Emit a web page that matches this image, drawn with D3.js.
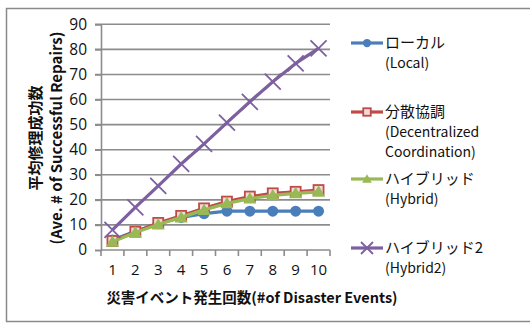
<!DOCTYPE html>
<html>
<head>
<meta charset="utf-8">
<script src="https://cdn.jsdelivr.net/npm/d3@7"></script>
<style>
  html, body { margin: 0; padding: 0; background: #fff; }
  svg { display: block; font-family: "Noto Sans CJK JP", "Noto Sans", sans-serif; }
</style>
</head>
<body>
<svg id="chart" width="530" height="324"></svg>
<script>
// Disaster event counts (x categories)
const events = [1, 2, 3, 4, 5, 6, 7, 8, 9, 10];
const yTicks = [0, 10, 20, 30, 40, 50, 60, 70, 80, 90];

// Average number of successful repairs per strategy
const localVals = [4, 7.5, 10.5, 13, 14.5, 15.5, 15.5, 15.5, 15.5, 15.5];
const decentralVals = [3.6, 7.3, 10.8, 13.6, 16.6, 19.3, 21.3, 22.6, 23.2, 23.9];
const hybridVals = [3.3, 7, 10.2, 13, 16, 18.6, 20.5, 21.8, 22.6, 23.2];
const hybrid2Vals = [8, 17, 25.6, 34.3, 42.3, 50.8, 59.1, 67.1, 74.4, 80.4];

const seriesNames = [["ローカル", "(Local)"], ["分散協調", "(Decentralized", "Coordination)"], ["ハイブリッド", "(Hybrid)"], ["ハイブリッド2", "(Hybrid2)"]];
const seriesData = [localVals, decentralVals, hybridVals, hybrid2Vals];
const seriesColors = ["#4A7EBB", "#BE4B48", "#98B954", "#7D60A0"];
const seriesMarkers = ["circle", "square", "triangle", "cross"];

const svg = d3.select("#chart");

// outer frame
svg.append("rect").attr("x", 6.5).attr("y", 8.5).attr("width", 540).attr("height", 313)
  .attr("fill", "none").attr("stroke", "#8a8a8a").attr("stroke-width", 1.5);

const plot = { left: 101, right: 330, top: 24.3, bottom: 250 };

const x = d3.scaleBand().domain(events).range([plot.left, plot.right]);
const y = d3.scaleLinear().domain([0, 90]).range([plot.bottom, plot.top]);

// horizontal gridlines
svg.append("g").selectAll("line").data(yTicks.slice(1)).join("line")
  .attr("x1", plot.left - 6).attr("x2", plot.right)
  .attr("y1", d => y(d)).attr("y2", d => y(d))
  .attr("stroke", "#8c8c8c").attr("stroke-width", 1.6);

// y axis
const yAxis = svg.append("g").attr("transform", `translate(${plot.left},0)`)
  .call(d3.axisLeft(y).tickValues(yTicks).tickSize(6).tickPadding(8));
yAxis.select(".domain").attr("stroke", "#8c8c8c").attr("stroke-width", 1.6);
yAxis.selectAll(".tick line").attr("stroke", "#8c8c8c").attr("stroke-width", 1.6);
yAxis.selectAll("text").attr("font-size", 15.5).attr("fill", "#111")
  .style("font-family", "'Open Sans', 'Noto Sans', sans-serif");

// x axis with ticks at category boundaries
const xAxisG = svg.append("g").attr("transform", `translate(0,${plot.bottom})`);
xAxisG.append("line").attr("x1", plot.left).attr("x2", plot.right)
  .attr("stroke", "#8c8c8c").attr("stroke-width", 1.6);
const boundaries = events.map(d => x(d)).concat([x.range()[1]]);
xAxisG.selectAll("line.tk").data(boundaries).join("line").attr("class", "tk")
  .attr("x1", d => d).attr("x2", d => d).attr("y1", 0).attr("y2", 6)
  .attr("stroke", "#8c8c8c").attr("stroke-width", 1.6);
xAxisG.selectAll("text").data(events).join("text")
  .attr("x", d => x(d) + x.bandwidth() / 2).attr("y", 25)
  .attr("text-anchor", "middle").attr("font-size", 15).attr("fill", "#111")
  .style("font-family", "'Open Sans', 'Noto Sans', sans-serif")
  .text(d => d);

// axis titles
svg.append("text").attr("x", 252).attr("y", 303)
  .attr("text-anchor", "middle").attr("font-size", 14.5).attr("font-weight", "bold")
  .attr("fill", "#111").text("災害イベント発生回数(#of Disaster Events)");

const yTitle = svg.append("g").attr("transform", "translate(45,138) rotate(-90)");
yTitle.append("text").attr("x", 0).attr("y", -4).attr("text-anchor", "middle")
  .attr("font-size", 15).attr("font-weight", "bold").attr("fill", "#111").text("平均修理成功数");
yTitle.append("text").attr("x", 0).attr("y", 17).attr("text-anchor", "middle")
  .attr("font-size", 15).attr("font-weight", "bold").attr("fill", "#111").text("(Ave. # of Successful Repairs)");

// marker drawing
function drawMarker(g, type, color, scale) {
  const k = scale || 1;
  if (type === "circle") {
    g.append("circle").attr("r", 5.5 * k).attr("fill", color);
  } else if (type === "square") {
    g.append("rect").attr("x", -5 * k).attr("y", -5 * k).attr("width", 10 * k).attr("height", 10 * k)
      .attr("fill", "#f3dada").attr("stroke", color).attr("stroke-width", 1.8);
  } else if (type === "triangle") {
    g.append("path").attr("d", `M0,${-6.5 * k}L${6.5 * k},${5 * k}L${-6.5 * k},${5 * k}Z`).attr("fill", color);
  } else if (type === "cross") {
    const r = 8 * k;
    g.append("path").attr("d", `M${-r},${-r}L${r},${r}M${-r},${r}L${r},${-r}`).attr("stroke", color)
      .attr("stroke-width", 1.8).attr("fill", "none");
  }
}

const line = d3.line().x((d, i) => x(events[i]) + x.bandwidth() / 2).y(d => y(d));

seriesData.forEach((vals, s) => {
  const g = svg.append("g");
  g.append("path").datum(vals).attr("d", line).attr("fill", "none")
    .attr("stroke", seriesColors[s]).attr("stroke-width", 3.2).attr("stroke-linejoin", "round");
  vals.forEach((v, i) => {
    const m = g.append("g").attr("transform", `translate(${x(events[i]) + x.bandwidth() / 2},${y(v)})`);
    drawMarker(m, seriesMarkers[s], seriesColors[s]);
  });
});

// legend
const legendY = [43, 112, 179, 248];
seriesNames.forEach((lines, s) => {
  const g = svg.append("g").attr("transform", `translate(0,${legendY[s]})`);
  g.append("line").attr("x1", 351).attr("x2", 383).attr("y1", 0).attr("y2", 0)
    .attr("stroke", seriesColors[s]).attr("stroke-width", 3.2);
  const m = g.append("g").attr("transform", "translate(367,0)");
  drawMarker(m, seriesMarkers[s], seriesColors[s], 0.75);
  lines.forEach((t, k) => {
    g.append("text").attr("x", 385).attr("y", 5 + k * 20).attr("font-size", k === 0 ? 15 : 14)
      .attr("fill", "#111").text(t);
  });
});
</script>
</body>
</html>
